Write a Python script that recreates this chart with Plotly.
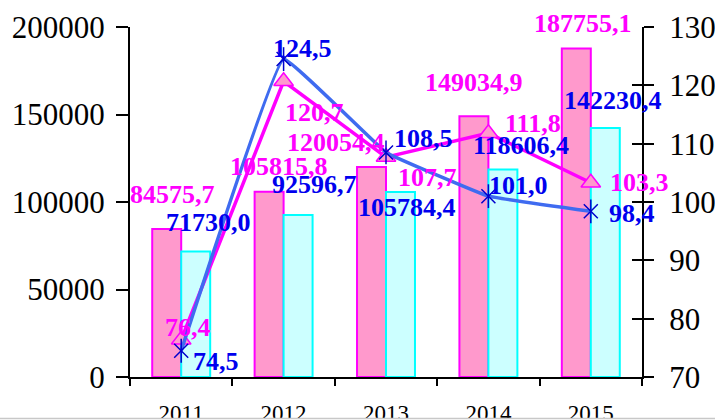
import plotly.graph_objects as go

years = ["2011", "2012", "2013", "2014", "2015"]
pink_vals = [84575.7, 105815.8, 120054.4, 149034.9, 187755.1]
cyan_vals = [71730.0, 92596.7, 105784.4, 118606.4, 142230.4]
mag_idx = [76.4, 120.7, 107.7, 111.8, 103.3]
blue_idx = [74.5, 124.5, 108.5, 101.0, 98.4]

def fmt(v):
    return f"{v:.1f}".replace(".", ",")

SERIF = "Liberation Serif, Times New Roman, serif"
MAG = "#FF00FF"
BLUE_TXT = "#0000EE"

fig = go.Figure()
fig.add_trace(go.Bar(x=years, y=pink_vals, marker=dict(color="#FF99CC", line=dict(color=MAG, width=2)),
                     yaxis="y", showlegend=False))
fig.add_trace(go.Bar(x=years, y=cyan_vals, marker=dict(color="#CCFFFF", line=dict(color="#00FFFF", width=2)),
                     yaxis="y", showlegend=False))
fig.add_trace(go.Scatter(x=years, y=mag_idx, yaxis="y2", mode="lines+markers",
                         line=dict(color=MAG, width=3.5),
                         marker=dict(symbol="triangle-up", size=17, color="#FF99CC",
                                     line=dict(color=MAG, width=1.5)),
                         showlegend=False))
fig.add_trace(go.Scatter(x=years, y=blue_idx, yaxis="y2", mode="lines+markers",
                         line=dict(color="#3F6BF0", width=3.5, shape="spline", smoothing=0.2),
                         marker=dict(symbol="x-thin-open", size=14, color="#0000CC",
                                     line=dict(color="#0000CC", width=1.5)),
                         showlegend=False))
fig.add_trace(go.Scatter(x=years, y=blue_idx, yaxis="y2", mode="markers",
                         marker=dict(symbol="line-ns-open", size=17, color="#0000CC",
                                     line=dict(color="#0000CC", width=1.5)),
                         showlegend=False))
# invisible trace so the inner-tick axis is drawn
fig.add_trace(go.Scatter(x=years, y=blue_idx, yaxis="y3", mode="markers",
                         marker=dict(opacity=0), hoverinfo="skip", showlegend=False))

# label offsets (px): (xshift, yshift)
pink_off = [(-9, 34), (-5, 25), (-50, 24), (-14, 34), (-8, 25)]
cyan_off = [(27, 29), (31, 30), (21, -16), (33, 24), (22, 28)]
mag_off = [(7, 12), (31, -31), (41, -20), (45, 10), (49, 0)]
blue_off = [(35, -11), (19, 11), (37, 14), (30, 11), (41, -2)]

ann = []
def add(vals, offs, yref, color):
    for i, (v, (dx, dy)) in enumerate(zip(vals, offs)):
        ann.append(dict(x=i, y=v, xref="x", yref=yref, text=fmt(v), showarrow=False,
                        xshift=dx, yshift=dy,
                        font=dict(family=SERIF, size=26, color=color, weight="bold")))
add(pink_vals, pink_off, "y", MAG)
add(cyan_vals, cyan_off, "y", BLUE_TXT)
add(mag_idx, mag_off, "y2", MAG)
add(blue_idx, blue_off, "y2", BLUE_TXT)

fig.update_layout(
    width=715, height=420,
    margin=dict(l=130, r=73, t=27, b=43),
    paper_bgcolor="white", plot_bgcolor="white",
    barmode="group", bargap=0.434, bargroupgap=0,
    font=dict(family=SERIF, color="black"),
    annotations=ann,
    xaxis=dict(type="category", range=[-0.5, 4.5], autorange=False, automargin=False,
               tickson="boundaries", ticks="outside", ticklen=7, tickwidth=2,
               tickcolor="black", showline=True, linewidth=2, linecolor="black",
               showgrid=False, tickangle=0, tickfont=dict(family=SERIF, size=23, color="black"),
               ticklabelstandoff=14),
    yaxis=dict(range=[0, 200000], dtick=50000, ticks="outside", ticklen=12, tickwidth=2,
               tickcolor="black", showline=True, linewidth=2, linecolor="black", automargin=False,
               showgrid=False, zeroline=False, tickformat="d",
               tickfont=dict(family=SERIF, size=31, color="black"), ticklabelstandoff=5),
    yaxis2=dict(range=[70, 130], dtick=10, overlaying="y", side="right", anchor="x",
                ticks="outside", ticklen=10, tickwidth=2, tickcolor="black", automargin=False,
                showline=True, linewidth=2, linecolor="black", showgrid=False, zeroline=False,
                tickfont=dict(family=SERIF, size=31, color="black"), ticklabelstandoff=9),
    yaxis3=dict(range=[70, 130], dtick=10, overlaying="y", side="right", anchor="x",
                ticks="inside", ticklen=10, tickwidth=2, tickcolor="black", automargin=False,
                showline=False, showgrid=False, zeroline=False, showticklabels=False),
    shapes=[dict(type="rect", xref="paper", yref="paper", x0=-0.3, x1=1.3,
                 y0=-0.117, y1=-0.2, fillcolor="white", line=dict(width=0), layer="above"),
            dict(type="line", xref="paper", yref="paper", x0=-0.3, x1=1.3,
                 y0=-0.1185, y1=-0.1185, line=dict(color="#C8C8C8", width=1.5), layer="above")],
)

fig.write_html("out.html", config={"displayModeBar": False},
               post_script="document.body.style.margin='0';document.body.style.overflow='hidden';")
